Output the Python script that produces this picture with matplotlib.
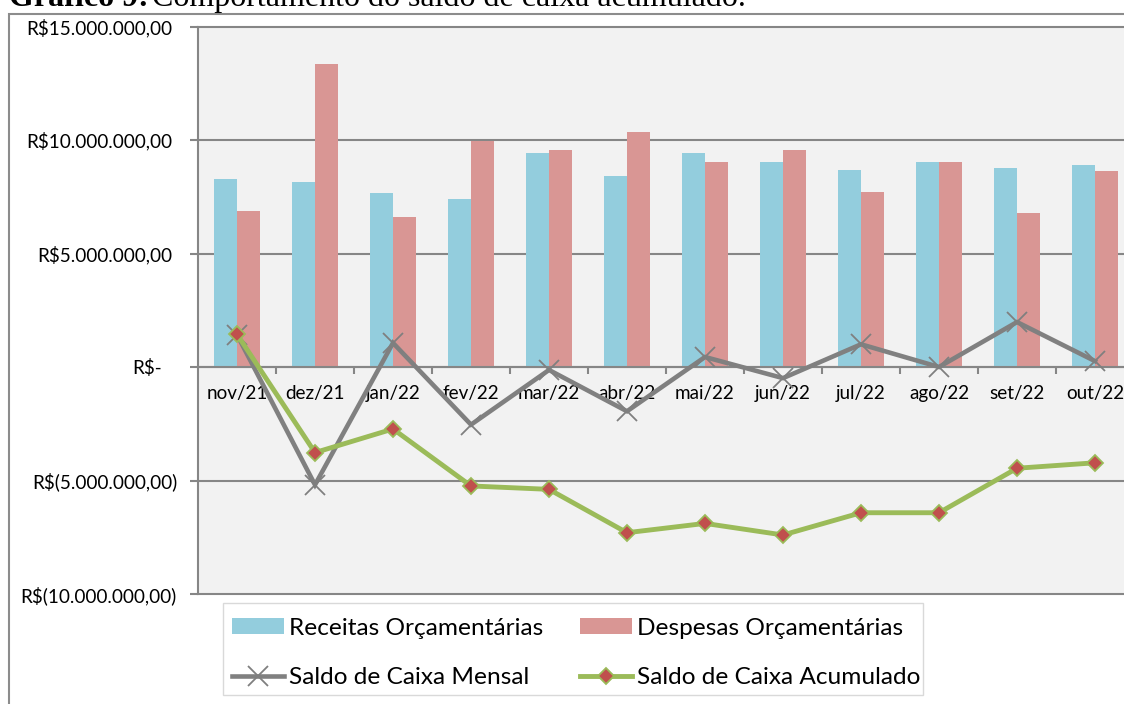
import matplotlib
matplotlib.use('Agg')
import matplotlib.pyplot as plt
import numpy as np
from matplotlib.patches import Rectangle, Patch
from matplotlib.lines import Line2D
from matplotlib.transforms import blended_transform_factory

plt.rcParams['font.family'] = ['Lato', 'DejaVu Sans']

# ---- data (R$) ----
months = ['nov/21', 'dez/21', 'jan/22', 'fev/22', 'mar/22', 'abr/22',
          'mai/22', 'jun/22', 'jul/22', 'ago/22', 'set/22', 'out/22']
receitas = [8280000, 8140000, 7670000, 7400000, 9410000, 8410000,
            9440000, 9050000, 8680000, 9050000, 8750000, 8900000]
despesas = [6870000, 13330000, 6610000, 9940000, 9560000, 10340000,
            9020000, 9550000, 7690000, 9050000, 6780000, 8650000]
saldo_mensal = [1420000, -5190000, 1060000, -2540000, -130000, -1950000,
                440000, -490000, 1000000, 0, 1980000, 260000]
saldo_acumulado = [1440000, -3770000, -2730000, -5240000, -5390000, -7300000,
                   -6890000, -7400000, -6420000, -6420000, -4460000, -4220000]
y_ticks = [-10000000, -5000000, 0, 5000000, 10000000, 15000000]
y_tick_labels = ['R$(10.000.000,00)', 'R$(5.000.000,00)', 'R$-',
                 'R$5.000.000,00', 'R$10.000.000,00', 'R$15.000.000,00']
legend_labels = ['Receitas Orçamentárias', 'Saldo de Caixa Mensal',
                 'Despesas Orçamentárias', 'Saldo de Caixa Acumulado']

W, H = 1124, 704
def fx(px):
    return px / W
def fy(py):
    return 1 - py / H

fig = plt.figure(figsize=(W / 100, H / 100), dpi=100)
fig.patch.set_facecolor('white')

# outer frame (partially outside the picture)
fig.add_artist(Rectangle((fx(9), fy(760)), fx(1300) - fx(9), fy(14) - fy(760),
                         transform=fig.transFigure, fill=False,
                         edgecolor='#8C8C8C', lw=1.5))

# clipped title at the very top
fig.text(fx(9), fy(6), 'Gráfico 9:', family=['Liberation Serif'],
         weight='bold', fontsize=23, va='baseline', ha='left')
fig.text(fx(152), fy(6), 'Comportamento do saldo de caixa acumulado.',
         family=['Liberation Serif'], fontsize=23, va='baseline', ha='left')

ax = fig.add_axes([fx(198), fy(594), (1134 - 198) / W, (594 - 26.5) / H])
ax.set_facecolor('#F2F2F2')

x = np.arange(len(months))
bw = 0.29
ax.bar(x - bw / 2, receitas, width=bw, color='#93CDDD', zorder=2)
ax.bar(x + bw / 2, despesas, width=bw, color='#D99694', zorder=2)

ax.plot(x, saldo_mensal, color='#808080', lw=3.3, marker='x', ms=14,
        mew=1.3, mec='#7F7F7F', zorder=3, solid_joinstyle='miter')
ax.plot(x, saldo_acumulado, color='#9BBB59', lw=3.5, marker='D', ms=8.3,
        mfc='#C0504D', mec='#9BBB59', mew=1.3, zorder=4)

ax.set_xlim(-0.5, len(months) - 0.5)
ax.set_ylim(-10000000, 15000000)

for s in ['top', 'right']:
    ax.spines[s].set_visible(False)
ax.spines['left'].set_color('#868686')
ax.spines['left'].set_linewidth(1.5)
ax.spines['bottom'].set_position(('data', 0))
ax.spines['bottom'].set_color('#868686')
ax.spines['bottom'].set_linewidth(1.5)

ax.set_yticks(y_ticks)
ax.tick_params(axis='y', length=6, width=1.5, color='#868686',
               labelleft=False)
ax.yaxis.grid(True, color='#868686', lw=1.5)
ax.set_axisbelow(True)
for gl in ax.get_ygridlines():
    gl.set_clip_on(False)

# accounting-style y labels (positives leave room for the parenthesis)
ytrans = blended_transform_factory(fig.transFigure, ax.transData)
for v, lab in zip(y_ticks, y_tick_labels):
    if lab.endswith(')'):
        right = 177
    elif lab.endswith('-'):
        right = 162
    else:
        right = 172
    ax.text(fx(right), v, lab, transform=ytrans, ha='right',
            va='center_baseline', fontsize=13.6, clip_on=False)

ax.set_xticks(x)
ax.set_xticklabels(months)
ax.set_xticks(np.arange(0.5, len(months), 1), minor=True)
ax.tick_params(axis='x', which='major', length=0, pad=13, labelsize=13.6)
ax.tick_params(axis='x', which='minor', length=5, width=1.5, color='#868686')

# legend frame
fig.add_artist(Rectangle((fx(223), fy(695)), fx(923) - fx(223), fy(603) - fy(695),
                         transform=fig.transFigure, facecolor='white',
                         edgecolor='#D9D9D9', lw=1.0, zorder=5))

handles = [Patch(facecolor='#93CDDD', edgecolor='none'),
           Line2D([], [], color='#808080', lw=3.3, marker='x', ms=14, mew=1.3,
                  mec='#7F7F7F'),
           Patch(facecolor='#D99694', edgecolor='none'),
           Line2D([], [], color='#9BBB59', lw=3.5, marker='D', ms=8.3,
                  mfc='#C0504D', mec='#9BBB59', mew=1.3)]
leg = fig.legend(handles, legend_labels, ncol=2, loc='upper left',
                 bbox_to_anchor=(fx(232), fy(618)), frameon=False,
                 fontsize=17.6, handlelength=2.14,
                 handleheight=0.62, handletextpad=0.2, columnspacing=1.5,
                 labelspacing=1.15, borderpad=0, borderaxespad=0)
leg.set_zorder(6)

fig.savefig('out.png', dpi=100)
